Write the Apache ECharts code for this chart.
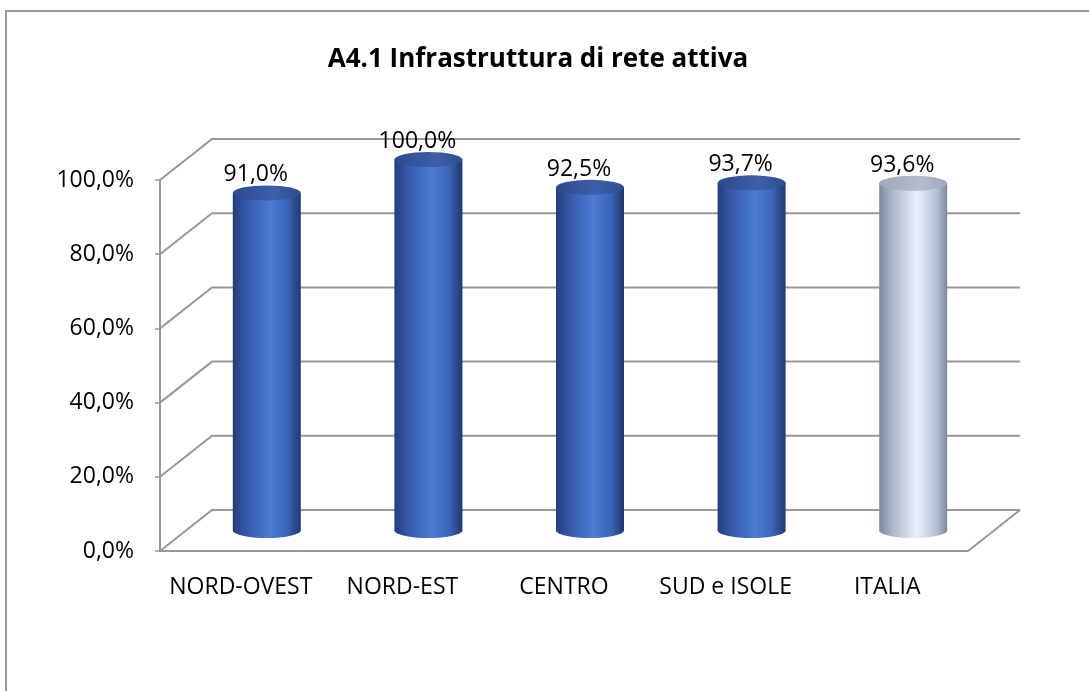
<!DOCTYPE html>
<html>
<head>
<meta charset="utf-8">
<script src="https://cdn.jsdelivr.net/npm/echarts@6/dist/echarts.min.js"></script>
<style>html,body{margin:0;padding:0;background:#fff}#c{width:1089px;height:691px}</style>
</head>
<body>
<div id="c"></div>
<script>
const categories = ['NORD-OVEST', 'NORD-EST', 'CENTRO', 'SUD e ISOLE', 'ITALIA'];
const values = [91.0, 100.0, 92.5, 93.7, 93.6];
const yTicks = [0, 20, 40, 60, 80, 100];
const titleText = 'A4.1 Infrastruttura di rete attiva';

const DX = 52, DY = -41;      // depth offset (px)
const R = 34, RY = 7.5;        // cylinder radius / ellipse half-height
const FONT = 'Open Sans';
const GRID = '#989898';
const fmt = v => v.toFixed(1).replace('.', ',') + '%';

function ellipsePath(cx, cy, rx, ry) {
  return 'M' + (cx - rx) + ' ' + cy +
    ' A' + rx + ' ' + ry + ' 0 1 0 ' + (cx + rx) + ' ' + cy +
    ' A' + rx + ' ' + ry + ' 0 1 0 ' + (cx - rx) + ' ' + cy + ' Z';
}
function grad(stops) {
  return new echarts.graphic.LinearGradient(0, 0, 1, 0, stops.map(s => ({offset: s[0], color: s[1]})));
}
const blueBody = [[0, '#233d78'], [0.15, '#3253a0'], [0.55, '#4b7dd6'], [0.8, '#3c64b9'], [1, '#213a70']];
const blueTop = [[0, '#2c4a8e'], [0.6, '#3d5fa9'], [1, '#2f4e92']];
const greyBody = [[0, '#7f8a9c'], [0.18, '#a8b3c6'], [0.55, '#e8f0fc'], [0.85, '#b4bfd2'], [1, '#7c8798']];
const greyTop = [[0, '#9ea8b8'], [0.6, '#b2bccb'], [1, '#a0aaba']];

const chart = echarts.init(document.getElementById('c'));
chart.setOption({
  animation: false,
  title: {
    text: titleText, left: 533, top: 42, textAlign: 'center',
    textStyle: {fontFamily: FONT, fontWeight: 'bold', fontSize: 26, color: '#000'}
  },
  graphic: [{
    type: 'rect', silent: true, z: -10,
    shape: {x: 6, y: 11, width: 1200, height: 800},
    style: {fill: 'none', stroke: '#9a9a9a', lineWidth: 2}
  }],
  grid: {left: 160, right: 121, top: 180, bottom: 140},
  xAxis: {
    type: 'category', data: categories,
    axisLine: {lineStyle: {color: GRID, width: 2}},
    axisTick: {length: 6, lineStyle: {color: GRID, width: 1.5}},
    axisLabel: {interval: 0, fontFamily: FONT, fontSize: 23, color: '#000', margin: 25}
  },
  yAxis: {
    type: 'value', min: 0, max: 100, interval: 20,
    axisLine: {show: true, lineStyle: {color: GRID, width: 2}},
    axisTick: {show: true, length: 5, lineStyle: {color: GRID, width: 1.5}},
    splitLine: {show: false},
    axisLabel: {fontFamily: FONT, fontSize: 23, color: '#000', margin: 26, formatter: fmt, padding: [4, 0, 0, 0]}
  },
  series: [{
    type: 'custom', z: 1, silent: true,
    data: yTicks.map(v => [0, v]),
    renderItem: function (params, api) {
      const v = api.value(1);
      const bw = api.size([1, 0])[0];
      const p = api.coord([0, v]);
      const xl = p[0] - bw / 2;
      const xr = api.coord([categories.length - 1, v])[0] + bw / 2;
      const y = p[1];
      const style = {stroke: GRID, lineWidth: 2, fill: 'none'};
      const children = [{
        type: 'polyline',
        shape: {points: [[xl, y], [xl + DX, y + DY], [xr + DX, y + DY]]},
        style: style
      }];
      if (v === 0) {
        children.push({type: 'line', shape: {x1: xr, y1: y, x2: xr + DX, y2: y + DY}, style: style});
      }
      return {type: 'group', children: children};
    }
  }, {
    type: 'custom', z: 5, silent: true,
    data: values.map((v, i) => [i, v]),
    renderItem: function (params, api) {
      const i = api.value(0), v = api.value(1);
      const top = api.coord([i, v]);
      const base = api.coord([i, 0]);
      const cx = top[0] + DX / 2;
      const ty = top[1] + DY / 2;
      const by = base[1] + DY / 2;
      const grey = categories[i] === 'ITALIA';
      const body = grad(grey ? greyBody : blueBody);
      return {
        type: 'group',
        children: [
          {type: 'path', shape: {pathData: ellipsePath(cx, by, R, RY)}, style: {fill: grad(grey ? greyBody : blueBody)}},
          {type: 'rect', shape: {x: cx - R, y: ty, width: 2 * R, height: by - ty}, style: {fill: body}},
          {type: 'path', shape: {pathData: ellipsePath(cx, ty, R, RY)}, style: {fill: grad(grey ? greyTop : blueTop)}},
          {type: 'text', x: cx - 11, y: ty - 18,
           style: {text: fmt(v), fontFamily: FONT, fontSize: 23, fill: '#000', align: 'center', verticalAlign: 'middle'}}
        ]
      };
    }
  }]
});
</script>
</body>
</html>
